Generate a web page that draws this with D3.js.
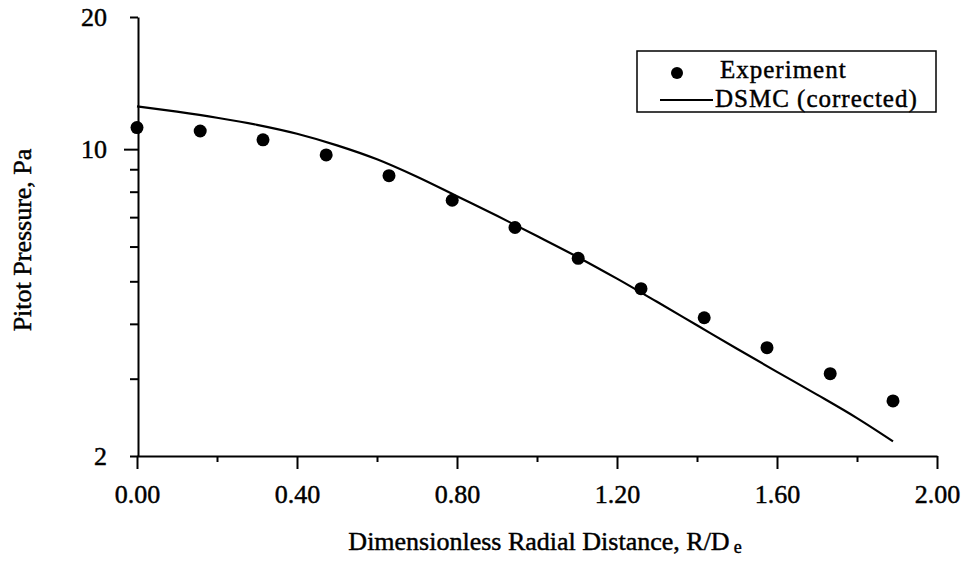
<!DOCTYPE html>
<html>
<head>
<meta charset="utf-8">
<script src="https://cdn.jsdelivr.net/npm/d3@7"></script>
<style>
  body { margin: 0; background: #fff; }
  text { font-family: "Liberation Serif", "Times New Roman", serif; fill: #000; stroke: #000; stroke-width: 0.45px; }
</style>
</head>
<body>
<svg id="chart" width="968" height="565"></svg>
<script>
// experiment points (R/De, Pa)
const expX = [0, 0.158, 0.315, 0.473, 0.63, 0.788, 0.945, 1.103, 1.26, 1.418, 1.575, 1.733, 1.89];
const expP = [11.2, 11.0, 10.5, 9.7, 8.7, 7.65, 6.63, 5.64, 4.81, 4.13, 3.53, 3.08, 2.67];

// DSMC (corrected) curve
const dsmcX = [0, 0.1, 0.2, 0.3, 0.4, 0.5, 0.6, 0.7, 0.8, 0.9, 1.0, 1.1, 1.2, 1.3, 1.4, 1.5, 1.6, 1.7, 1.8, 1.89];
const dsmcP = [12.52, 12.17, 11.79, 11.36, 10.84, 10.2, 9.48, 8.65, 7.81, 7.05, 6.34, 5.69, 5.07, 4.49, 3.97, 3.51, 3.11, 2.76, 2.44, 2.16];

const xMajor = [0, 0.4, 0.8, 1.2, 1.6, 2.0];
const xMinor = [0.2, 0.6, 1.0, 1.4, 1.8];
const yMinor = [2, 3, 4, 5, 6, 7, 8, 9, 20];
const yMajor = [10];

const legendNames = ["Experiment", "DSMC (corrected)"];

const svg = d3.select("#chart");

// scales
const x = d3.scaleLinear().domain([0, 2]).range([137, 937]);
const y = d3.scaleLog().domain([2, 20]).range([456, 17]);

// x axis
svg.append("g")
  .attr("transform", "translate(0,456)")
  .call(d3.axisBottom(x).tickValues(xMajor).tickSize(13).tickPadding(16)
    .tickSizeOuter(0).tickFormat(d3.format(".2f")));
svg.append("g")
  .attr("transform", "translate(0,456)")
  .call(d3.axisBottom(x).tickValues(xMinor).tickSize(6).tickFormat(""))
  .select(".domain").remove();

// y axis
svg.append("g")
  .attr("transform", "translate(138,0)")
  .call(d3.axisLeft(y).tickValues(yMinor).tickSize(8).tickPadding(23)
    .tickSizeOuter(0).tickFormat(d => (d === 2 || d === 20) ? d : ""));
svg.append("g")
  .attr("transform", "translate(138,0)")
  .call(d3.axisLeft(y).tickValues(yMajor).tickSize(14).tickPadding(17).tickFormat(d => d))
  .select(".domain").remove();

svg.selectAll(".domain, .tick line").attr("stroke", "#000").attr("stroke-width", 2);
svg.selectAll(".tick text").attr("font-size", 26).attr("font-family", "Liberation Serif");

// axis titles
const xt = svg.append("text")
  .attr("x", 545).attr("y", 550)
  .attr("text-anchor", "middle")
  .attr("font-size", 26);
xt.append("tspan").text("Dimensionless Radial Distance, R/D");
xt.append("tspan").attr("font-size", 18).attr("dx", 4).attr("dy", 3).text("e");

svg.append("text")
  .attr("transform", "translate(31,240) rotate(-90)")
  .attr("text-anchor", "middle")
  .attr("font-size", 26)
  .text("Pitot Pressure, Pa");

// DSMC line
const line = d3.line().x(d => x(d[0])).y(d => y(d[1])).curve(d3.curveMonotoneX);
svg.append("path")
  .datum(d3.zip(dsmcX, dsmcP))
  .attr("fill", "none")
  .attr("stroke", "#000")
  .attr("stroke-width", 2.2)
  .attr("d", line);

// experiment points
svg.selectAll("circle.exp")
  .data(d3.zip(expX, expP))
  .join("circle")
  .attr("class", "exp")
  .attr("cx", d => x(d[0]))
  .attr("cy", d => y(d[1]))
  .attr("r", 6.5)
  .attr("fill", "#000");

// legend
const lg = svg.append("g");
lg.append("rect")
  .attr("x", 637).attr("y", 51).attr("width", 299).attr("height", 61)
  .attr("fill", "#fff").attr("stroke", "#000").attr("stroke-width", 1.5);
lg.append("circle").attr("cx", 677).attr("cy", 73).attr("r", 6).attr("fill", "#000");
lg.append("line").attr("x1", 660).attr("x2", 713).attr("y1", 100).attr("y2", 100)
  .attr("stroke", "#000").attr("stroke-width", 2);
lg.selectAll("text.lg")
  .data(legendNames)
  .join("text")
  .attr("class", "lg")
  .attr("x", (d, i) => i === 0 ? 720 : 715)
  .attr("y", (d, i) => i === 0 ? 78 : 107)
  .attr("font-size", 25)
  .attr("letter-spacing", 1)
  .text(d => d);
</script>
</body>
</html>
